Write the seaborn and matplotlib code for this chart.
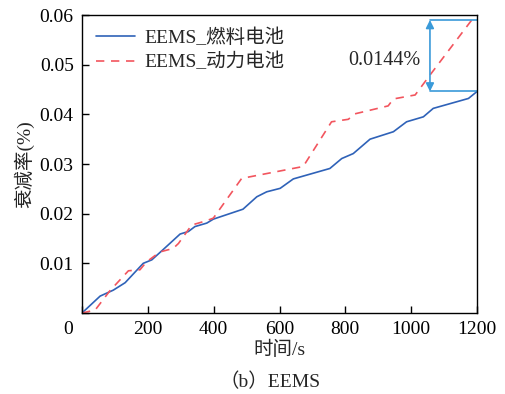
import matplotlib
matplotlib.use("Agg")
import matplotlib.pyplot as plt
import matplotlib.transforms as mtransforms
import seaborn as sns
import pandas as pd

sns.set_theme(style="ticks")
plt.rcParams["font.family"] = ["Liberation Serif", "Noto Sans CJK SC"]
plt.rcParams["axes.unicode_minus"] = False

# Fuel cell degradation under EEMS
fc_time = [0, 55, 95, 131, 186, 212, 247, 298, 323, 343, 379, 399, 489,
           531, 561, 602, 642, 753, 789, 824, 875, 946, 986, 1037, 1067,
           1174, 1200]
fc_rate = [0.0, 0.0034, 0.0046, 0.0061, 0.0100, 0.0107, 0.0128, 0.0159,
           0.0164, 0.0174, 0.0181, 0.0189, 0.0209, 0.0234, 0.0244, 0.0251,
           0.0270, 0.0291, 0.0311, 0.0321, 0.0350, 0.0365, 0.0385, 0.0395,
           0.0412, 0.0432, 0.0446]

# Power battery degradation under EEMS
bat_time = [0, 40, 85, 141, 176, 196, 237, 277, 293, 333, 379, 399, 485,
            672, 758, 809, 829, 930, 946, 1012, 1057, 1184, 1200]
bat_rate = [0.0, 0.0006, 0.0045, 0.0085, 0.0087, 0.0103, 0.0123, 0.0130,
            0.0140, 0.0177, 0.0186, 0.0191, 0.0271, 0.0295, 0.0385, 0.0390,
            0.0401, 0.0417, 0.0431, 0.0439, 0.0479, 0.0590, 0.0590]

series_names = ["EEMS_燃料电池", "EEMS_动力电池"]
gap_label = "0.0144%"
gap_x = 1057

x_ticks = [0, 200, 400, 600, 800, 1000, 1200]
y_ticks = [0, 0.01, 0.02, 0.03, 0.04, 0.05, 0.06]
y_tick_labels = ["", "0.01", "0.02", "0.03", "0.04", "0.05", "0.06"]

df_fc = pd.DataFrame({"t": fc_time, "r": fc_rate})
df_bat = pd.DataFrame({"t": bat_time, "r": bat_rate})

fig = plt.figure(figsize=(5.05, 3.94), dpi=100)
ax = fig.add_axes([0.1624, 0.2056, 0.7822, 0.7563])

blue = "#2f62b8"
red = "#f2555e"
anno = "#3a9ad9"

sns.lineplot(data=df_fc, x="t", y="r", ax=ax, color=blue, lw=1.2,
             label=series_names[0])
sns.lineplot(data=df_bat, x="t", y="r", ax=ax, color=red, lw=1.2,
             linestyle=(0, (5, 4)), label=series_names[1])

ax.set_xlim(0, 1200)
ax.set_ylim(0, 0.06)
ax.set_xticks(x_ticks)
ax.set_xticklabels([str(v) for v in x_ticks])
ax.set_yticks(y_ticks)
ax.set_yticklabels(y_tick_labels)
ax.tick_params(direction="in", length=5, width=1, labelsize=14,
               top=False, right=False, pad=6, colors="black")
for lab in ax.get_xticklabels()[:1]:
    lab.set_transform(lab.get_transform() +
                      mtransforms.ScaledTranslation(-14 / 100, 0, fig.dpi_scale_trans))

for s in ax.spines.values():
    s.set_linewidth(1.0)
    s.set_color("black")

ax.set_xlabel("时间/s", fontsize=14, labelpad=2)
ax.set_ylabel("衰减率(%)", fontsize=14, labelpad=4)

# Gap between final degradation values
top_val = bat_rate[-1]
bot_val = fc_rate[-1]
ax.annotate("", xy=(gap_x, top_val), xytext=(gap_x, bot_val),
            arrowprops=dict(arrowstyle="<|-|>", color=anno, lw=1.2,
                            mutation_scale=12, shrinkA=0, shrinkB=0))
ax.plot([gap_x, 1200], [top_val, top_val], color=anno, lw=1.2)
ax.plot([gap_x, 1200], [bot_val, bot_val], color=anno, lw=1.2)
ax.text(920, 0.0509, gap_label, fontsize=14.5, ha="center", va="center")

leg = ax.legend(loc="upper left", frameon=False, fontsize=14,
                handlelength=2.0, borderaxespad=0.3, labelspacing=0.3,
                handletextpad=0.5, bbox_to_anchor=(0.0, 1.0))

fig.text(0.535, 0.032, "（b）EEMS", fontsize=14, ha="center", va="center")

fig.savefig("out.png", dpi=100)
